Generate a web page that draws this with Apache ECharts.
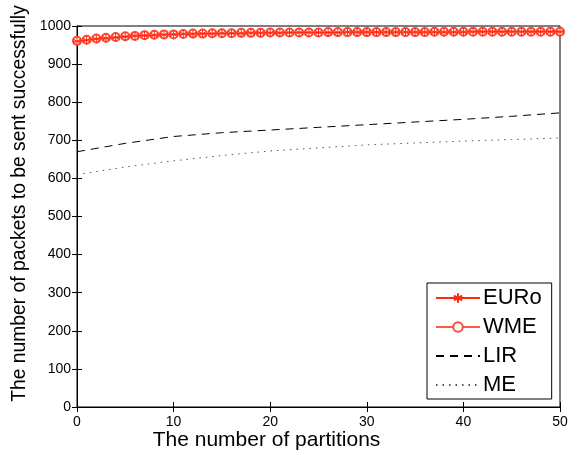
<!DOCTYPE html>
<html>
<head>
<meta charset="utf-8">
<script src="https://cdn.jsdelivr.net/npm/echarts@6/dist/echarts.min.js"></script>
<style>
  html, body { margin: 0; padding: 0; background: #fff; }
  #chart { width: 579px; height: 455px; }
</style>
</head>
<body>
<div id="chart"></div>
<script>
// EURo / WME sampled at every partition count 0..50
const euro = [960, 963, 966, 968, 970, 972, 974, 975, 976, 977,
  978, 979, 979, 980, 980, 981, 981, 981, 982, 982,
  982, 982, 983, 983, 983, 983, 983, 983, 984, 984,
  984, 984, 984, 984, 984, 984, 984, 984, 984, 984,
  984, 985, 985, 985, 985, 985, 985, 985, 985, 985, 985]
const wme = [961, 964, 967, 969, 971, 973, 974, 976, 977, 978,
  978, 979, 980, 980, 981, 981, 981, 982, 982, 982,
  983, 983, 983, 983, 983, 983, 984, 984, 984, 984,
  984, 984, 984, 984, 984, 984, 984, 985, 985, 985,
  985, 985, 985, 985, 985, 985, 985, 985, 985, 985, 985]
// LIR / ME read every 5 partitions
const coarseX = [0, 5, 10, 15, 20, 25, 30, 35, 40, 45, 50]
const lir = [670, 692, 710, 720, 727, 734, 741, 748, 755, 763, 772]
const me = [610, 630, 646, 660, 672, 680, 688, 693, 698, 702, 706]

const xTicks = [0, 10, 20, 30, 40, 50]
const yTicks = [0, 100, 200, 300, 400, 500, 600, 700, 800, 900, 1000]

const asterisk = 'path://M5,0L5,10M0.7,2.5L9.3,7.5M0.7,7.5L9.3,2.5M0,5L10,5'
const font = '"Liberation Sans", Arial, sans-serif'

const chart = echarts.init(document.getElementById('chart'))

const pairs = (xs, ys) => ys.map((v, i) => [xs[i], v])
const fullX = euro.map((_, i) => i)

const tickAxis = {
  axisLine: { show: true, lineStyle: { color: '#000', width: 1 } },
  axisTick: { show: true, inside: true, length: 5, lineStyle: { color: '#000' } },
  splitLine: { show: false }
}

chart.setOption({
  animation: false,
  backgroundColor: '#fff',
  textStyle: { fontFamily: font },
  grid: {
    left: 77, right: 19, top: 26, bottom: 48,
    outerBoundsMode: 'none', containLabel: false,
    show: true, borderColor: '#000', borderWidth: 1
  },
  legend: {
    orient: 'vertical',
    left: 427,
    top: 283,
    backgroundColor: '#fff',
    borderColor: '#000',
    borderWidth: 1,
    padding: [4, 10, 3, 8],
    itemWidth: 44,
    itemHeight: 12,
    itemGap: 7,
    textStyle: { fontSize: 22, color: '#000', fontFamily: font, padding: [0, 0, 0, -2] },
    data: [
      { name: 'EURo' },
      { name: 'WME' },
      { name: 'LIR', itemStyle: { opacity: 0 } },
      { name: 'ME', itemStyle: { opacity: 0 } }
    ]
  },
  xAxis: [
    Object.assign({
      type: 'value', min: 0, max: 50, interval: 10,
      name: 'The number of partitions', nameLocation: 'middle', nameGap: 23, nameMoveOverlap: false,
      nameTextStyle: { fontSize: 21, color: '#000', fontFamily: font, padding: [0, 104, 0, 0] },
      axisLabel: { fontSize: 14, color: '#000', margin: 8,
        formatter: v => xTicks.includes(v) ? String(v) : '' }
    }, tickAxis),
    Object.assign({
      type: 'value', min: 0, max: 50, interval: 10, position: 'top',
      axisLabel: { show: false }
    }, tickAxis)
  ],
  yAxis: [
    Object.assign({
      type: 'value', min: 0, max: 1000, interval: 100,
      name: 'The number of packets to be sent successfully', nameLocation: 'middle', nameGap: 43,
      nameTextStyle: { fontSize: 19.3, color: '#000', fontFamily: font, padding: [0, 0, 0, 26] },
      axisLabel: { fontSize: 14, color: '#000', margin: 6,
        formatter: v => yTicks.includes(v) ? String(v) : '' }
    }, tickAxis),
    Object.assign({
      type: 'value', min: 0, max: 1000, interval: 100, position: 'right',
      axisLabel: { show: false }
    }, tickAxis)
  ],
  series: [
    {
      name: 'EURo', type: 'line', data: pairs(fullX, euro), z: 3,
      symbol: asterisk, symbolSize: 9, showAllSymbol: true,
      lineStyle: { color: '#ff2a12', width: 1 },
      itemStyle: { color: 'rgba(0,0,0,0)', borderColor: '#ff2a12', borderWidth: 1 }
    },
    {
      name: 'WME', type: 'line', data: pairs(fullX, wme), z: 2,
      symbol: 'emptyCircle', symbolSize: 8, showAllSymbol: true,
      lineStyle: { color: '#ff5a48', width: 1 },
      itemStyle: { color: '#ff4a36', borderColor: '#ff4a36', borderWidth: 1 }
    },
    {
      name: 'LIR', type: 'line', data: pairs(coarseX, lir), symbol: 'none',
      lineStyle: { color: '#000', width: 1, type: [8, 6] },
      itemStyle: { color: '#000' }
    },
    {
      name: 'ME', type: 'line', data: pairs(coarseX, me), symbol: 'none',
      lineStyle: { color: '#555', width: 1, type: [1.5, 5] },
      itemStyle: { color: '#555' }
    }
  ]
})
</script>
</body>
</html>
